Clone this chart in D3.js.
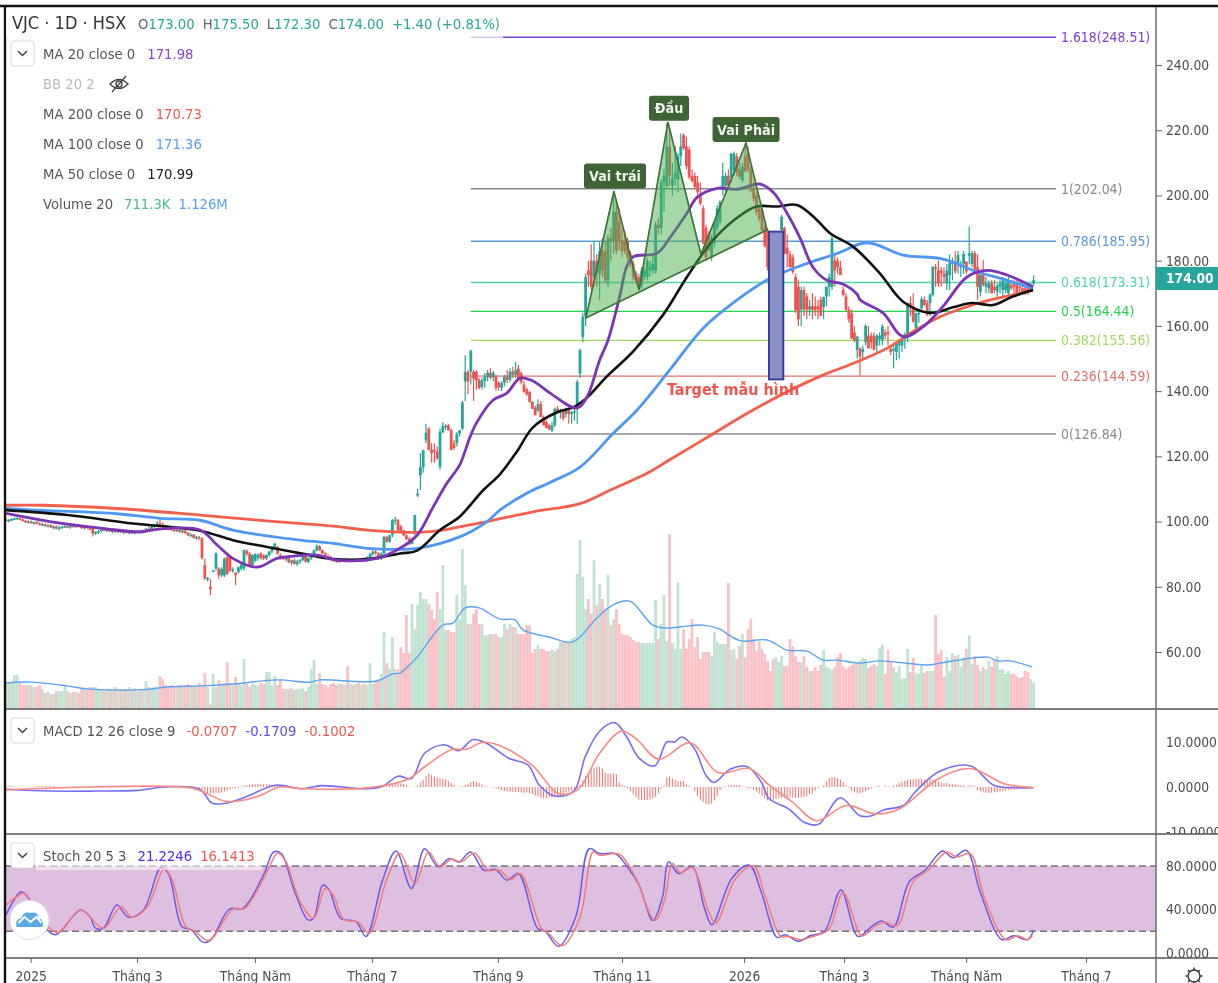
<!DOCTYPE html>
<html>
<head>
<meta charset="utf-8">
<script src="https://d3js.org/d3.v7.min.js"></script>
<style>
  html, body { margin: 0; padding: 0; background: #fff; overflow: hidden; }
  svg { display: block; filter: blur(0.5px); }
  text { font-family: "DejaVu Sans", sans-serif; font-stretch: condensed; }
  .axis path { display: none; }
  .axis line { stroke: #666; }
  .axis text { font-size: 13.7px; fill: #4d4d4d; }
</style>
</head>
<body>
<script>
// one row per trading day: open, high, low, close
var ohlc = [
[100.6,101,100,100.2],[100.2,100.8,99.8,100.5],[100.5,101,100.2,100.8],[100.8,101.2,100.4,101],[101,101.3,100.6,101.1],[101,101.2,100.4,100.6],[100.6,100.9,100,100.2],[100.2,100.5,99.6,99.8],[99.8,100.4,99.5,100],[100,100.3,99.3,99.5],
[99.5,100,99,99.8],[99.8,100.2,99.2,99.4],[99.4,99.8,98.8,99],[99,99.6,98.6,99.2],[99.2,99.5,98.4,98.6],[98.6,99.2,98.2,98.9],[98.9,99.2,98,98.2],[98.2,98.8,97.6,98.5],[98.5,98.8,97.6,97.8],[97.8,98.6,97.2,98.2],
[98.2,98.8,97.8,98.4],[98.4,99,98,98.6],[98.6,99.2,98,98.2],[98.2,99,97.8,98.7],[98.7,99.2,98.2,98.5],[98.5,99,98,98.8],[98.8,99.2,98.2,98.4],[98.4,98.9,97.8,98.1],[98.1,98.8,97.6,98.4],[98.4,98.8,97.8,98],
[98,98.4,97.4,97.6],[97.8,98,95.4,96.3],[96.3,97,95.8,96.8],[96.8,97.4,96.2,97.1],[97.1,97.8,96.6,97.6],[97.6,98,97,97.3],[97.3,97.9,96.8,97.5],[97.5,98,96.8,97],[97,97.6,96.4,97.3],[97.3,97.8,96.6,96.9],
[96.9,97.6,96.4,97.2],[97.2,97.6,96.4,96.7],[96.7,97.4,96.2,97.1],[97.1,97.6,96.4,96.6],[96.6,97.2,96,96.9],[96.9,97.4,96.2,96.5],[96.5,97.2,96,96.9],[96.9,97.4,96.4,97.2],[97.2,97.6,96.4,96.8],[96.8,97.6,96.4,97.4],
[97.4,98,96.8,97.8],[97.8,98.4,97,97.5],[97.5,98.6,97.2,98.3],[98.3,99.2,98,99],[99,100.2,98.4,99.5],[99.5,100.6,98.6,99],[99,99.8,98.2,98.5],[98.5,99,97.8,98],[98,98.6,97.4,97.8],[97.8,98.4,97.2,97.5],
[97.5,98,96.8,97.2],[97.2,97.9,96.8,97.5],[97.5,97.8,96.6,96.9],[96.9,97.6,96.4,97.2],[97.2,97.5,96.2,96.5],[96.5,96.9,95.6,95.8],[95.8,96.4,95.2,96],[96,96.2,94.8,95],[95,95.6,94.4,95.2],[95.2,95.6,94.4,94.8],
[94.8,95.2,88.3,88.8],[86.6,88.6,82,82.6],[82.6,83,81.6,82.7],[80,82.5,77.4,79.3],[85,85.2,84.8,85],[85.6,90.5,85,90.2],[85.6,86,82.5,83.5],[83.5,86,83,85.5],[83.5,89,83,88.6],[89.1,89.5,83.5,84],
[89,89.5,84.5,85],[85,86,84.2,85.3],[84.2,84.5,80.5,83.5],[84.5,86.2,84,86],[85.5,87,85,86.8],[85.6,91.5,85,91.2],[91,91.5,89.5,90],[90.2,90.6,86,86.6],[86.6,90,86,89.7],[88,90.3,87.5,90],
[88.8,90.2,88,89.8],[90.2,90.6,88.4,88.7],[89.6,90,88.2,88.7],[88.7,90,88.2,89.7],[89.7,91,89.2,90.8],[90.8,92.4,90.2,92.2],[92.2,93.5,91.5,93.2],[92.2,92.6,89.8,90.2],[89.7,90.2,88.4,88.7],[89.2,89.6,88.2,88.6],
[88.6,89.4,87.8,88.8],[88.8,89.2,87.2,87.4],[87.4,88.4,86.6,88.1],[88.1,88.6,86.8,87],[87,88.2,86.4,87.8],[87.8,88.6,87,88.2],[88.2,89.8,87.8,89.4],[89.4,89.7,87.4,87.8],[87.6,89,87.2,88.8],[88.8,90.2,88.2,89.9],
[89.9,91.5,89.5,91.2],[91.2,93,90.8,92.4],[92.4,92.8,91,91.2],[91.2,91.5,90,90.2],[90.2,90.6,89.2,89.5],[89.5,90,88.6,88.9],[88.9,89.4,88,88.4],[88.4,88.9,87.6,88],[88,88.5,87.4,87.7],[87.7,88.6,87.3,88.2],
[88.2,88.6,87.6,87.9],[87.9,88.6,87.6,88.3],[88.3,88.8,87.7,88],[88,88.6,87.5,88.3],[88.3,88.7,87.6,87.9],[87.9,88.5,87.6,88.2],[88.2,88.6,87.6,87.8],[87.8,88.8,87.5,88.5],[88.5,89,87.9,88.2],[88.2,89.4,88,89.1],
[89.1,90.4,88.6,90],[90,91.2,89.4,90.8],[90.8,91.5,89.8,90.3],[90.3,90.6,88.2,88.5],[88.5,90.6,88.2,90.2],[90.2,95.5,89.8,95.3],[95.3,95.6,93.5,93.8],[93.8,96,93.5,95.8],[95.8,100.8,95.2,100.4],[100.4,101.5,99,100.6],
[100.4,100.8,97,97.3],[98.5,99,96.8,97],[97.3,97.6,95.5,95.8],[95.8,96,94.4,94.6],[94.8,95.2,92.8,93.2],[93.2,95,93,94.3],[96.3,102,95.8,102],[108,110,107.5,108.6],[114.2,121,109.6,116.7],[116.7,122,115,121.9],
[124.9,130,124,127.2],[128.5,129,121.8,121.9],[122,124,118,121],[122,124,118,121.5],[121.5,123,119,119.3],[116.7,128.5,116,127.5],[127.5,130.5,127,129.2],[129,129.8,128,129.4],[129.5,130,128,128],[128,128.5,121.8,122],
[124,125,122,122.5],[124,127.5,123,126.9],[127,128,126,128],[128.5,137,128,136.5],[143,151,137,145.9],[145.9,146.5,139,142.9],[146,152.5,142,152.5],[145.9,146.5,137,143.8],[145.9,146.5,140.5,143.3],[143.4,144,140.5,141],
[141.3,144,140.5,143.3],[143,145.5,141,144.3],[144.3,146.5,143,145.6],[145.6,147,143.6,144.2],[144.2,146.2,143,145.6],[144.5,145,140,141],[142.5,143,140,141.2],[141,143,140,142.5],[142.5,145,141.5,144.4],[144.4,146.5,142.5,143.4],
[143.4,147,142.8,146],[146,147.5,144,145],[145,149,144,146.4],[146.9,148,143.5,143.8],[145.5,146,142,142.8],[142,143,139.5,139.8],[140.5,141,138.5,139],[139.7,140,136.5,136.7],[136.7,137,134.5,134.6],[135,135.5,132.5,132.6],
[134,137.5,133.5,136],[136,137,132,132.1],[132,132.5,129.5,129.5],[130.5,131,128.5,128.7],[129.5,130,128,128.3],[128,130.5,127.5,129.5],[129.5,135,129,134.6],[134.6,135.5,133,133.6],[133.6,134.6,131.5,134],[134,134.5,131,131.6],
[133,135,132,134.6],[134,135,130,133],[133,134,130,133.5],[133.5,134.5,131,133.8],[134.6,143.5,130,142.8],[145.4,153,144,152.5],[156.6,164,155,162.8],[162.8,176,160,175],[177,180,172,175.5],[180,185,171,172],
[175,186,172,180],[180,182,172,176],[176,186,168,183],[183,187,175,177],[183,186,173,174],[174,188,172,187],[187,190,180,186],[186,200,182,195],[195,198,182,183],[192,196,183,186],
[186,190,181,183],[186,189,182,183],[186,187,180,181],[182,183,178,179],[179,180,174,175],[176,177,173,174],[175,176,171,172.5],[172.5,178,171.5,177],[175,178,174,177],[175,181,174,180],
[177,180,175,178],[177,182,176,179],[177,192,176,191],[191,193,188,190],[190,205,188,204],[204,208,195,206],[203,222.3,202,215],[215,220,203,206],[203,210,200,205],[205,215,203,207],
[205,213,201,212],[212,219,209,215],[218.5,219,214,214.5],[215,218,208,209],[214,215,205,205.7],[206,208,204,204.5],[206,207,202,202.6],[204,206,200,201],[200.5,204,197,197.5],[196,197,185,185.3],
[190,191,180,181],[188,189,183,183.2],[181,188,180,187],[185.3,192,184,191.9],[190,197,189,196],[192,198.5,191,198],[201.6,210,200,206],[203,207,201,206],[206,208,202,203],[205.7,213,204,212.8],
[207.8,213.5,206,212.8],[212,213,206,207],[208,210,205,205.7],[204.7,210,204,208.8],[212,216,207,207.5],[212.9,215,207,207.8],[207.8,209,201,201.6],[202,204,198,199],[200,201,194,195],[196,197,192,193],
[195.5,196,189,189.3],[190,191,184,184.5],[189.3,190,177,178],[182,186,176,177],[184,185,178,180],[180,186,178,184],[178,184,173,183],[189.4,194,187,193.4],[190,190.5,182,182.2],[184,188,178,182],
[182,183,178,178],[181,182,176,176.5],[175,176,164,164.8],[172,174,160,162],[165,172,160,171],[171,172,163,165],[169,170,162,165],[165,168,163,166],[166,170,162,165],[166,169,163,164.8],
[166,168,162,165],[168,169,163,163],[165.8,169,162,168.8],[169,172,166,172],[172,176,169,175],[172,188,171,186.8],[180,182,172,177],[180,181,176,178],[178,180,175.6,175.6],[171,172,169,169.5],
[169,170,164.5,165],[165,166,161,162],[163.9,165,156,156.2],[158,160,155,155.5],[152.6,157,150,156.7],[153,153.5,144.9,150.6],[152,154,150,153],[155,160.5,154,160],[157,160,153,153.2],[157,158,153,155],
[157,158,152.5,152.6],[154,157.5,152,157],[156,158,154,157],[155.7,160.5,154,159.8],[158,159,156,157],[158,160,154,157.5],[153,153.6,151,152],[152.5,154,147,153],[152,155,149.5,154.6],[154,156,150,155.5],
[154,157,152,156.2],[156,158,153,157.5],[157.2,167,155,167],[167,169,163,166],[166,170,161,161.3],[159.3,164,159,163.9],[163.9,165,161,164],[165.4,169,165,168.2],[168,169,166,166.4],[167,168,163,163.4],
[167,170,163,169.5],[169.5,178,169,178.2],[178,179,172,177.5],[177,180,172,173],[177,178,172,176],[176,178,173,175],[173,179,171,177],[175.6,182,171,179.2],[179,181,174,180],[179.7,183,176,176.7],
[179,183,176,181.8],[178,180,175,179],[179,183,176,182],[179.7,180,176,176.7],[181.5,190.5,179,182.3],[179,183,178,182.3],[182.3,183,176.5,176.7],[178,182,168,172],[170.5,177,169,175.6],[175.6,180.2,172,172.6],
[172,175,170,173],[171.5,174,170,173],[173,174,170,170],[172,174,170,171],[170.5,173,168.5,172.4],[172,174,170,173],[171,175,169,174],[171,174,170,173],[170,175,169,174],[172.5,174,171,171.5],
[173,174,170,172],[172.5,174,169.5,169.5],[172,173,170,171.5],[171.5,173,169.5,170.5],[171.5,172.5,169.5,170.5],[171.5,172.5,169.5,170.8],[172,173,170.5,172],[173,175.5,172.3,174]
];

// volume per day, in thousands
var volume = [
700,700,700,910,910,700,640,640,640,640, 590,590,640,540,430,460,400,400,480,480,
480,640,480,430,460,460,430,540,540,540, 590,590,590,540,540,480,540,540,540,590,
540,540,540,540,590,540,560,480,540,540, 750,590,540,590,540,880,800,640,590,640,
590,590,640,590,590,670,640,590,640,700, 640,960,590,130,940,590,780,640,700,1260,
700,640,860,670,640,1340,670,590,670,640, 640,700,670,990,990,640,880,640,800,540,
540,540,560,510,540,540,560,480,590,1070, 1310,670,960,670,640,590,670,700,640,670,
670,640,1150,670,640,670,700,640,670,640, 1230,670,720,800,940,2060,1230,1070,1930,1070,
1070,1660,1500,2520,1500,2810,2140,2790,3140,2950, 2950,2810,2650,2410,3140,2680,3860,2120,2120,2060,
2060,3060,2410,4290,3320,2280,2280,2550,2680,2280, 2280,1980,1980,2010,2010,2010,1930,1930,2280,2140,
2280,2200,2200,2010,2010,2010,2250,2250,1500,1610, 1720,1610,1610,1550,1550,1610,1550,1610,1800,1800,
1800,1800,1880,1930,3620,4530,3540,2680,2950,2550, 3990,2790,3350,2950,2680,3590,2250,2410,2680,2280,
2010,1980,1980,1930,1850,1800,1800,1770,1770,1770, 1770,1770,2920,1880,2280,3060,1820,4690,1770,1610,
3400,1610,2140,1610,1880,2410,1660,1930,1340,1530, 1530,1530,1420,2060,1800,1740,1740,1740,3380,1580,
1610,1340,1690,2010,1390,2140,2410,1880,1550,1820, 1610,1470,1290,1020,1340,1390,1260,1420,1150,1150,
1880,1690,1420,1260,1260,1420,1130,1020,1020,1130, 1020,1180,1580,1130,1100,1050,1130,1390,1500,1150,
1070,1130,1180,1210,1230,1290,1370,1340,1100,1150, 1210,1150,1630,1720,940,1580,1260,1130,990,1150,
830,830,1610,990,1370,960,940,1210,960,1020, 1020,1020,2520,1470,1580,860,1390,1020,1500,1420,
1450,1130,1390,1610,1980,1210,1420,1180,1020,1130, 1070,1290,1130,1290,1420,1050,1070,940,1020,940,
940,880,830,860,1020,990,800,711
];

// [bar, value]
var ma200 = [[0,105],[13.2,105],[39.6,104],[69.3,102],[93.2,100.2],[116.8,98.6],[129,97.4],[146.8,96.7],[156,97.4],[162,98.4],[171.8,100],[188.2,103],[205,105.5],[215.7,109.6],[230,115.3],[236,118.4],[247.9,124.5],[266.8,134.2],[282.5,141.3],[291.8,144.9],[304,149],[314.6,153.1],[323.9,158.2],[333.6,162.8],[347.9,167.1],[359.6,169.5],[366.8,171]];
var ma100 = [[0,104],[13.2,103.4],[39.6,102.4],[55,101],[69.3,100.4],[81,97.4],[105,94.3],[116.8,93.3],[129,91.8],[146.8,91.8],[162,95.3],[171.8,100],[176.4,103.5],[186,108.7],[194.3,112],[205,116.7],[216.8,127],[225.4,134.2],[237,146.4],[249,159.3],[261,167.9],[272.9,174.6],[284.6,178.7],[296.8,182.2],[307.5,185.5],[320.4,181.7],[334.6,180.5],[346.8,176.6],[357.5,174],[366.8,171.4]];
var ma50 = [[0,103.5],[21.8,102],[45.4,99.4],[69.3,97.2],[81,94.3],[93.2,92.2],[108.6,89.7],[116.8,88.5],[129,88.5],[140.7,90.2],[146.8,91.1],[155,97.4],[162,101.5],[170.4,109.6],[176.4,114.5],[182.5,121.5],[188.2,128.9],[196.8,133.5],[202.5,135],[207.5,138],[214.6,144.5],[224,152.2],[234.6,163.3],[243.2,175],[252.5,186.3],[261,193.1],[268,196.6],[275.4,196.6],[282.5,197.1],[289.6,192.5],[294.3,188.4],[302.5,184.3],[312,176.2],[320.4,167.4],[330,164],[338.2,165.7],[345,167],[352.5,166.4],[359.6,169],[366.8,171]];
var ma20 = [[0,102.5],[15.7,100],[33.6,98],[47.9,96.8],[53.9,97.6],[69.3,97.4],[75.4,92.8],[81,88.7],[89.6,86],[96.8,88.7],[102.5,89.4],[111,89.7],[118.2,88.2],[132.5,88.7],[140.7,91.8],[146.8,95.8],[152.5,104.4],[157.5,111.8],[162,117.3],[165.7,125.9],[168.2,130.5],[173.9,137.2],[178.9,139.4],[183.6,144],[188.2,143.1],[194.3,139.4],[203.9,134.8],[207.5,138.2],[212,149.5],[215,155.6],[219.3,169.5],[221.6,178],[224,181.2],[232.5,182.3],[237,186.9],[243.2,194.6],[246.8,199.4],[254,202.2],[261,201.9],[269.3,203.5],[274,201],[278.9,194.6],[283.6,186.9],[288.2,178],[293.2,174],[299,172.8],[304,169.7],[305,168],[313.2,164],[320.4,156.7],[327.5,159.7],[334.6,165.9],[343.2,175],[350.4,177],[357.5,175.6],[366.8,172]];
var volumeMa = [[0,700],[8.6,720],[21.8,620],[28.9,540],[48.9,520],[57.5,590],[69.3,620],[81,670],[96.8,780],[108.6,720],[112,780],[132.5,750],[138,940],[140.7,960],[143,1100],[146.8,1390],[156,2250],[159.6,2300],[164,2710],[169,2710],[176.4,2410],[181.8,2390],[184.6,2120],[194,1930],[202.5,1800],[211,2440],[216.8,2790],[222.8,2890],[231,2250],[236,2170],[240.7,2200],[249,2250],[255,2140],[258.6,1960],[263,1820],[271.8,1850],[279,1580],[286,1550],[291.8,1310],[296.8,1310],[305,1230],[312,1290],[329,1180],[333.6,1230],[345.4,1370],[350.7,1390],[354,1290],[358.6,1290],[366.4,1126]];

var macdLine = [[0,-0.5],[15.7,-0.9],[32,-0.9],[47,-0.75],[56.6,0],[68.9,-0.4],[73.7,-3.6],[78.5,-3.6],[85.3,-2.3],[96.3,0.4],[105.8,-0.4],[112.7,0.3],[129,-0.4],[134.5,0.15],[140,2.4],[144.8,1.9],[149.5,7.5],[156.4,9.4],[161.8,8.1],[166.6,10.5],[171.4,9.8],[179.6,6.4],[186.4,4.9],[190.5,0.4],[196,-2],[202.8,-0.9],[206.9,6.8],[212,12.4],[217.4,14.3],[221.9,10.9],[226.1,6.4],[231.7,4.7],[236,10],[238.8,10],[241.3,11.1],[245.8,8.6],[250,2.6],[252.8,1],[258.5,3.9],[264.8,4.5],[269.7,1.1],[272.6,-2.6],[279.6,-4.9],[285.2,-7.9],[290.2,-8.3],[297.9,-2.4],[305,-6.4],[309.2,-6.4],[313.4,-5.1],[320.5,-4.1],[324.7,-1.1],[333.1,3.4],[344.4,4.7],[352.8,0.4],[361.3,-0.15],[367,-0.17]];
var macdSignal = [[0,-0.6],[66.2,-0.2],[71.7,-1.5],[78.5,-3.2],[84,-3],[90.8,-1.9],[97.6,0],[105.8,-0.4],[129,-0.2],[144.1,1.9],[149.5,4.5],[159.1,8.3],[164.6,8.4],[170,9.9],[175.5,9.4],[187.8,4.9],[197.4,-1.5],[204.2,-0.6],[212,7.5],[219.7,12.4],[224.7,10.9],[233.1,6.2],[244.4,9.8],[254.3,3.2],[265.5,4.1],[272.6,0.4],[281,-3.4],[289.5,-7.5],[300,-4.1],[310.6,-6],[319,-4.9],[333.1,1.9],[344.4,4.1],[357.1,0.6],[367,-0.1]];
var macdHist = [
0.2,0.2,0.2,0.1,0,0,0,0,0,0.1, 0.2,0.2,0.2,0.2,0.2,0.2,0.2,0.2,0.1,0,
-0.1,-0.1,-0.1,0,0,0,0,0,0,0, 0,0.1,0.2,0.2,0.2,0.2,0.1,0,0,0,
0,0,0,0.1,0.1,0.1,0.1,0.1,0,0, 0,0.1,0.1,0,0,0,0,0,0,0,
0,0,0,0,0,-0.1,-0.1,-0.1,-0.2,-0.3, -0.7,-1.1,-1.4,-1.5,-1.4,-1.3,-1.4,-1.2,-1,-0.8,
-0.5,-0.3,-0.3,-0.2,0.1,0.3,0.4,0.5,0.6,0.6, 0.7,0.7,0.6,0.6,0.7,0.5,0.5,0.4,0.4,0.3,
0.1,-0.1,-0.1,0,0.1,0,-0.1,0,0.1,0.1, 0,-0.1,0,0.1,0,0,-0.1,0,0.1,0,
0,0.1,0,-0.1,0,0,0.1,0.1,0,-0.1, 0,0.1,0.1,0,0.1,0.1,0.3,0.5,0.6,0.7,
0.7,0.8,0.7,0.4,0.1,0,0.1,0.3,1,1.6, 2.4,3,2.6,2.3,2.1,1.9,1.8,1.7,1.3,0.9,
0.5,0,0.1,0.2,0.4,0.7,1.1,1.3,1.2,0.9, 0.6,0.2,0.1,0,-0.1,-0.3,-0.5,-0.7,-0.9,-1,
-1.1,-1.1,-1.2,-1.1,-1.2,-1.3,-1.2,-1.4,-1.6,-1.9, -2.1,-2.4,-2.5,-2.4,-2.3,-2.4,-2.3,-2.2,-1.8,-1.5,
-1.2,-1,-0.8,-0.5,-0.3,0.5,1.5,2.5,3.2,3.9, 4.3,4.5,4.5,4.1,3.2,3,3,3,2.8,1,
0.5,0.2,-0.3,-1,-1.6,-2.3,-2.8,-2.9,-2.9,-2.9, -2.8,-2.6,-2.2,-1.4,-0.4,0.3,2.1,2.3,1.9,1.6,
1.3,1.4,1.3,0.6,0.3,0,-1,-2,-2.8,-3.3, -3.8,-3.9,-3.7,-3,-2,-0.7,-0.2,0.1,0.3,0.4,
0.4,0.4,0.4,0.2,0.1,-0.4,-0.2,-0.6,-1,-1.5, -2,-2.6,-3,-3,-2.8,-2.6,-2.4,-2.4,-2.4,-2.3,
-2.3,-2.4,-2.4,-2.4,-2.3,-2.2,-2,-1.6,-1.4,-0.8, -0.3,0,0.4,1.2,2,2.2,2.2,2,1.7,1.1,
0.3,-0.2,-0.8,-1.2,-1.4,-1.4,-1.2,-1,-0.6,-0.3, 0,0.1,0.2,0,0.3,0.1,0,0.3,0.5,0.9,
1.2,1.4,1.7,1.7,1.7,1.8,1.8,1.8,1.7,1.6, 1.7,1.5,1.5,1.2,1,0.9,0.9,0.7,0.6,0.6,
0.5,0.4,0.3,0.1,0.4,0.3,0.2,-0.7,-1,-1.2, -1.3,-1.3,-1.3,-1.2,-1.1,-1,-0.9,-0.8,-0.7,-0.7,
-0.6,-0.5,-0.4,-0.3,-0.2,-0.15,-0.1,-0.07
];

var stochK = [[0,35],[5.4,56.4],[8.1,50.3],[13.6,24.4],[17.7,16.8],[23.9,33.5],[26.6,39.6],[30,33.5],[32,22.8],[34.8,22.8],[39.6,44.2],[43.7,32.9],[49.1,39.6],[55.3,78.6],[58,73.1],[62.8,24.4],[66.2,21.3],[70.3,10],[73,11.6],[79.9,40.5],[84.6,41.1],[92.2,73.1],[95.6,92.9],[98.3,91.4],[103.1,56.4],[107.9,30.5],[109.9,32],[113.1,62.4],[115.4,57.9],[119.5,32],[125,28.9],[128.6,15.2],[134.5,67],[139.3,93.8],[144.8,59.4],[149.5,95.9],[154.3,79.2],[158.4,86.8],[161.8,83.8],[165.9,92.9],[170.7,76.1],[174.8,76.8],[178.9,67],[183,73.1],[189.8,22.8],[192.6,19.8],[197.4,6.1],[203.5,33.5],[208.3,95.9],[212,91.4],[217.6,91.4],[221.9,79.2],[226.1,62.4],[231,29.9],[234.5,51.8],[236.6,83.8],[240.2,73.1],[245.1,79.2],[249.3,42.6],[252.1,25.9],[259.2,68.5],[265.5,80.7],[269.7,56.4],[275.4,14.3],[278.2,16.8],[283.1,10.7],[287.4,16.1],[292.3,19.8],[298.2,57.9],[304.3,15.2],[309.2,24.4],[312.7,29.5],[316.9,23.8],[322.6,65.5],[328.2,76.1],[334.5,93.8],[338.1,87.7],[343,94.4],[347.9,56.4],[355.7,12.2],[359.9,15.8],[364.8,12.2],[367,21.2]];
var stochD = [[0,44.2],[6.8,54.8],[9.5,42.6],[18.4,18.9],[26.6,39.6],[34.8,22.8],[41,42.6],[45,32.9],[50.5,42.6],[56.6,77.7],[59.4,67],[64.2,24.4],[67.6,19.8],[72.4,11.6],[81.2,40.5],[85.3,41.1],[93.5,76.1],[97,92],[99.7,85.3],[105.1,47.2],[109.9,32],[114,59.4],[116.8,53.3],[120.8,30.5],[125.6,28.9],[129.7,18.3],[135.9,67],[140.7,91.4],[146.1,64],[150.9,92.9],[155,79.2],[159.1,86.2],[162.5,83.8],[167.3,92],[172.1,76.1],[176.2,76.1],[180.3,67.6],[183.7,73.1],[191.2,22.8],[193.9,17.7],[198.7,6.7],[204.9,32],[209.7,92.9],[212,89.9],[219,90.8],[224.7,70],[231.7,29.9],[235.2,48.7],[238,82.2],[240.9,73.7],[245.1,78.6],[250.7,39.6],[253.5,27.4],[260.6,68.5],[266.9,80.1],[271.2,51.8],[276.8,15.2],[279.6,15.2],[283.8,12.2],[288.1,15.2],[293.7,21.3],[299,55.4],[305.7,15.8],[310.6,25],[314.1,28.3],[318.3,25],[324,65.5],[329.6,76.8],[336,92.9],[339.5,88.3],[344.4,91.4],[349.3,51.8],[357.1,12.2],[361.3,15.8],[364.8,12.2],[366.6,16.1]];

var priceTicks = [240,220,200,180,160,140,120,100,80,60];
var macdTicks = [10,0,-10];
var stochTicks = [80,40,0];
var timeTickBars = [8.8,46.8,88.9,130.7,175.7,220,263.6,299.3,342.9,385.7];
var timeTickLabels = ["2025","Tháng 3","Tháng Năm","Tháng 7","Tháng 9","Tháng 11","2026","Tháng 3","Tháng Năm","Tháng 7"];

var fibLevels = ["1.618","1","0.786","0.618","0.5","0.382","0.236","0"];
var fibPrices = [248.51,202.04,185.95,173.31,164.44,155.56,144.59,126.84];
var fibColors = ["#7e3fd6","#8a8a8a","#5b9bd5","#4fd6a8","#22d64a","#a2d964","#e0706c","#8a8a8a"];
var fibStartBar = 166;
var fibEndBar = 375;

// head and shoulders outline, [bar, price]
var patternPoints = [[207.1,162.4],[217.1,201.3],[226.1,171],[236.4,222.5],[248.2,182],[264.3,216.1],[271.8,189.4]];
var patternLabels = ["Vai trái","Đầu","Vai Phải"];
var patternLabelBars = [217.5,236.8,264.3];
var patternLabelPrices = [206,226.7,220.2];
var patternLabelWidths = [62,40,67];
var targetBox = [272.5,277.6,188.9,143.6];

var WIDTH = 1218, HEIGHT = 983;
var PANE_RIGHT = 1156, PANE_LEFT = 6;
var GREEN = "#26a69a", RED = "#ef5350";

var xScale = d3.scaleLinear().domain([0, 367]).range([PANE_LEFT, 1033.6]);
var yPrice = d3.scaleLinear().domain([240, 60]).range([65, 652]);
var yVolume = d3.scaleLinear().domain([0, 1000]).range([709, 671.7]);
var yMacd = d3.scaleLinear().domain([10, -10]).range([742, 832]);
var yStoch = d3.scaleLinear().domain([80, 0]).range([866, 953]);

var svg = d3.select("body").append("svg").attr("width", WIDTH).attr("height", HEIGHT);
var defs = svg.append("defs");

function addClip(id, top, bottom) {
    defs.append("clipPath").attr("id", id).append("rect")
        .attr("x", PANE_LEFT).attr("y", top).attr("width", WIDTH - PANE_LEFT).attr("height", bottom - top);
}
addClip("mainClip", 7, 709);
addClip("macdClip", 709, 834);
addClip("stochClip", 834, 958);

function drawLine(parent, data, yScale, color, width) {
    var line = d3.line()
        .x(function (d) { return xScale(d[0]); })
        .y(function (d) { return yScale(d[1]); })
        .curve(d3.curveCatmullRom.alpha(0.5));
    parent.append("path").attr("d", line(data))
        .attr("fill", "none").attr("stroke", color).attr("stroke-width", width)
        .attr("stroke-linejoin", "round");
}

var main = svg.append("g").attr("clip-path", "url(#mainClip)");

// volume underneath everything
main.selectAll(".vol").data(volume).join("rect")
    .attr("x", function (d, i) { return xScale(i) - 1.4; })
    .attr("width", 2.8)
    .attr("y", function (d) { return yVolume(d); })
    .attr("height", function (d) { return 709 - yVolume(d); })
    .attr("fill", function (d, i) { return ohlc[i][3] >= ohlc[i][0] ? "#c0e3d3" : "#f9c2c6"; });
drawLine(main, volumeMa, yVolume, "#5ba3f5", 1.4);

// fibonacci levels
fibPrices.forEach(function (p, i) {
    main.append("line")
        .attr("x1", xScale(fibStartBar)).attr("x2", xScale(fibEndBar))
        .attr("y1", yPrice(p)).attr("y2", yPrice(p))
        .attr("stroke", fibColors[i]).attr("stroke-width", 1.4);
    svg.append("text")
        .attr("x", 1061).attr("y", yPrice(p) + 5)
        .attr("font-size", "13.9px").attr("fill", fibColors[i])
        .text(fibLevels[i] + "(" + p.toFixed(2) + ")");
});

// candles
var candles = main.append("g");
candles.selectAll(".wick").data(ohlc).join("line")
    .attr("x1", function (d, i) { return xScale(i); })
    .attr("x2", function (d, i) { return xScale(i); })
    .attr("y1", function (d) { return yPrice(d[1]); })
    .attr("y2", function (d) { return yPrice(d[2]); })
    .attr("stroke", function (d) { return d[3] >= d[0] ? GREEN : RED; })
    .attr("stroke-width", 1.2);
candles.selectAll(".body").data(ohlc).join("rect")
    .attr("x", function (d, i) { return xScale(i) - 1.4; })
    .attr("width", 2.8)
    .attr("y", function (d) { return yPrice(Math.max(d[0], d[3])); })
    .attr("height", function (d) { return Math.max(1.5, Math.abs(yPrice(d[0]) - yPrice(d[3]))); })
    .attr("fill", function (d) { return d[3] >= d[0] ? GREEN : RED; });

// moving averages
drawLine(main, ma200, yPrice, "#f2604d", 2.8);
drawLine(main, ma100, yPrice, "#4f97f5", 2.8);
drawLine(main, ma50, yPrice, "#111", 2.6);
drawLine(main, ma20, yPrice, "#7b35b5", 2.8);

// head and shoulders polygon
main.append("polygon")
    .attr("points", patternPoints.map(function (d) { return xScale(d[0]) + "," + yPrice(d[1]); }).join(" "))
    .attr("fill", "rgba(76,175,80,0.5)")
    .attr("stroke", "#41733a").attr("stroke-width", 1.7);

patternLabels.forEach(function (t, i) {
    var cx = xScale(patternLabelBars[i]), cy = yPrice(patternLabelPrices[i]);
    main.append("rect")
        .attr("x", cx - patternLabelWidths[i] / 2).attr("y", cy - 12.5)
        .attr("width", patternLabelWidths[i]).attr("height", 25).attr("rx", 3)
        .attr("fill", "#3e6335");
    main.append("text")
        .attr("x", cx).attr("y", cy + 5).attr("text-anchor", "middle")
        .attr("font-size", "14.2px").attr("font-weight", "600").attr("fill", "#eef2ea").text(t);
});

// pattern target box
main.append("rect")
    .attr("x", xScale(targetBox[0])).attr("width", xScale(targetBox[1]) - xScale(targetBox[0]))
    .attr("y", yPrice(targetBox[2])).attr("height", yPrice(targetBox[3]) - yPrice(targetBox[2]))
    .attr("fill", "#8a92c8").attr("stroke", "#383f9c").attr("stroke-width", 2);
main.append("text")
    .attr("x", 667).attr("y", 395)
    .attr("font-size", "16px").attr("font-weight", "bold").attr("fill", "#f0564c")
    .text("Target mẫu hình");

// macd pane
var macdPane = svg.append("g").attr("clip-path", "url(#macdClip)");
macdPane.selectAll(".hist").data(macdHist).join("line")
    .attr("x1", function (d, i) { return xScale(i); })
    .attr("x2", function (d, i) { return xScale(i); })
    .attr("y1", yMacd(0))
    .attr("y2", function (d) { return yMacd(d); })
    .attr("stroke", "#f7716b").attr("stroke-width", 1);
drawLine(macdPane, macdLine, yMacd, "#7a6cf0", 1.6);
drawLine(macdPane, macdSignal, yMacd, "#f98a85", 1.6);

// stoch pane
var stochPane = svg.append("g").attr("clip-path", "url(#stochClip)");
stochPane.append("rect")
    .attr("x", PANE_LEFT).attr("width", PANE_RIGHT - PANE_LEFT)
    .attr("y", yStoch(80)).attr("height", yStoch(20) - yStoch(80))
    .attr("fill", "#dfbfdf");
[80, 20].forEach(function (v) {
    stochPane.append("line")
        .attr("x1", PANE_LEFT).attr("x2", PANE_RIGHT)
        .attr("y1", yStoch(v)).attr("y2", yStoch(v))
        .attr("stroke", "#777").attr("stroke-width", 1.4).attr("stroke-dasharray", "7 4");
});
drawLine(stochPane, stochK, yStoch, "#6a5ce8", 1.5);
drawLine(stochPane, stochD, yStoch, "#f47c7c", 1.5);

// axes
svg.append("g").attr("class", "axis")
    .attr("transform", "translate(" + PANE_RIGHT + ",0)")
    .call(d3.axisRight(yPrice).tickValues(priceTicks).tickSize(6).tickPadding(4)
        .tickFormat(function (d) { return d.toFixed(2); }));
svg.append("g").attr("class", "axis").attr("clip-path", "url(#macdClip)")
    .attr("transform", "translate(" + PANE_RIGHT + ",0)")
    .call(d3.axisRight(yMacd).tickValues(macdTicks).tickSize(6).tickPadding(4)
        .tickFormat(function (d) { return d.toFixed(4); }));
svg.append("g").attr("class", "axis").attr("clip-path", "url(#stochClip)")
    .attr("transform", "translate(" + PANE_RIGHT + ",0)")
    .call(d3.axisRight(yStoch).tickValues(stochTicks).tickSize(6).tickPadding(4)
        .tickFormat(function (d) { return d.toFixed(4); }));
svg.append("g").attr("class", "axis")
    .attr("transform", "translate(0,958)")
    .call(d3.axisBottom(xScale).tickValues(timeTickBars).tickSize(5).tickPadding(8)
        .tickFormat(function (d, i) { return timeTickLabels[i]; }));

// frame and pane dividers
function rule(x1, y1, x2, y2, color, w) {
    svg.append("line").attr("x1", x1).attr("y1", y1).attr("x2", x2).attr("y2", y2)
        .attr("stroke", color).attr("stroke-width", w);
}
rule(PANE_LEFT, 709, WIDTH, 709, "#555", 1.4);
rule(PANE_LEFT, 834, WIDTH, 834, "#555", 1.4);
rule(PANE_LEFT, 958, WIDTH, 958, "#555", 1.4);
rule(PANE_RIGHT, 6, PANE_RIGHT, HEIGHT, "#666", 1.4);
rule(0, 6, WIDTH, 6, "#111", 2.4);
rule(5, 5, 5, HEIGHT, "#111", 2.4);

// last price tag
svg.append("rect").attr("x", PANE_RIGHT).attr("y", 267).attr("width", WIDTH - PANE_RIGHT).attr("height", 23).attr("fill", GREEN);
svg.append("text").attr("x", 1166).attr("y", 283).attr("font-size", "13.7px").attr("fill", "#fff").attr("font-weight", "600").text("174.00");

// legends
svg.append("rect").attr("x", 6).attr("y", 8).attr("width", 497).attr("height", 30).attr("fill", "rgba(255,255,255,0.7)");
svg.append("rect").attr("x", 36).attr("y", 846).attr("width", 226).attr("height", 24).attr("fill", "rgba(255,255,255,0.55)");

function legend(x, y, parts, size) {
    var t = svg.append("text").attr("x", x).attr("y", y).attr("font-size", size || "14.7px");
    parts.forEach(function (p) {
        t.append("tspan").attr("dx", p[2] || 0).attr("fill", p[1]).text(p[0]);
    });
}
legend(12, 29, [["VJC · 1D · HSX", "#333"]], "18px");
legend(138, 29, [["O", "#666"], ["173.00", GREEN], ["H", "#666", 8], ["175.50", GREEN], ["L", "#666", 8], ["172.30", GREEN], ["C", "#666", 8], ["174.00", GREEN], ["+1.40 (+0.81%)", GREEN, 8]]);
legend(43, 59, [["MA 20 close 0", "#555"], ["171.98", "#8e44c8", 12]]);
legend(43, 89, [["BB 20 2", "#bbb"]]);
legend(43, 119, [["MA 200 close 0", "#555"], ["170.73", "#f2584f", 12]]);
legend(43, 149, [["MA 100 close 0", "#555"], ["171.36", "#5b9cf6", 12]]);
legend(43, 179, [["MA 50 close 0", "#555"], ["170.99", "#222", 12]]);
legend(43, 209, [["Volume 20", "#555"], ["711.3K", "#4dbb8a", 11], ["1.126M", "#5b9cf6", 8]]);
legend(43, 736, [["MACD 12 26 close 9", "#555"], ["-0.0707", "#f2584f", 11], ["-0.1709", "#5b4cf0", 8], ["-0.1002", "#f2584f", 8]]);
legend(43, 861, [["Stoch 20 5 3", "#555"], ["21.2246", "#4a2cf0", 11], ["16.1413", "#f2584f", 8]]);

// collapse buttons
[[11, 41], [11, 718], [11, 843]].forEach(function (p) {
    svg.append("rect").attr("x", p[0]).attr("y", p[1]).attr("width", 23).attr("height", 25).attr("rx", 3)
        .attr("fill", "#fff").attr("stroke", "#d5d8e0");
    svg.append("path")
        .attr("d", "M" + (p[0] + 7) + "," + (p[1] + 10) + "l4.5,4.5l4.5,-4.5")
        .attr("fill", "none").attr("stroke", "#444").attr("stroke-width", 1.5);
});

// hidden indicator eye
var eye = svg.append("g").attr("transform", "translate(119,84)").attr("fill", "none").attr("stroke", "#444").attr("stroke-width", 1.4);
eye.append("path").attr("d", "M-9,0Q0,-9 9,0Q0,9 -9,0Z");
eye.append("circle").attr("r", 3);
eye.append("line").attr("x1", -7).attr("y1", 8).attr("x2", 7).attr("y2", -8);

// logo badge
var logo = svg.append("g").attr("transform", "translate(29.5,920)");
logo.append("circle").attr("r", 19.5).attr("fill", "#fff").attr("stroke", "#e2e2e2");
logo.append("path").attr("d", "M-13,7Q-15,-1 -8,-2Q-6,-9 1,-7Q8,-9 9,-2Q15,0 13,7Z").attr("fill", "#5aa9e6");
logo.append("path").attr("d", "M-11,3L-5,-3L1,2L7,-3L12,3").attr("fill", "none").attr("stroke", "#fff").attr("stroke-width", 2);

// settings gear
var gear = svg.append("g").attr("transform", "translate(1194,976)").attr("stroke", "#333").attr("fill", "none").attr("stroke-width", 1.4);
gear.append("circle").attr("r", 6);
d3.range(8).forEach(function (i) {
    var a = i * Math.PI / 4;
    gear.append("line")
        .attr("x1", 6 * Math.cos(a)).attr("y1", 6 * Math.sin(a))
        .attr("x2", 8.5 * Math.cos(a)).attr("y2", 8.5 * Math.sin(a));
});
</script>
</body>
</html>
